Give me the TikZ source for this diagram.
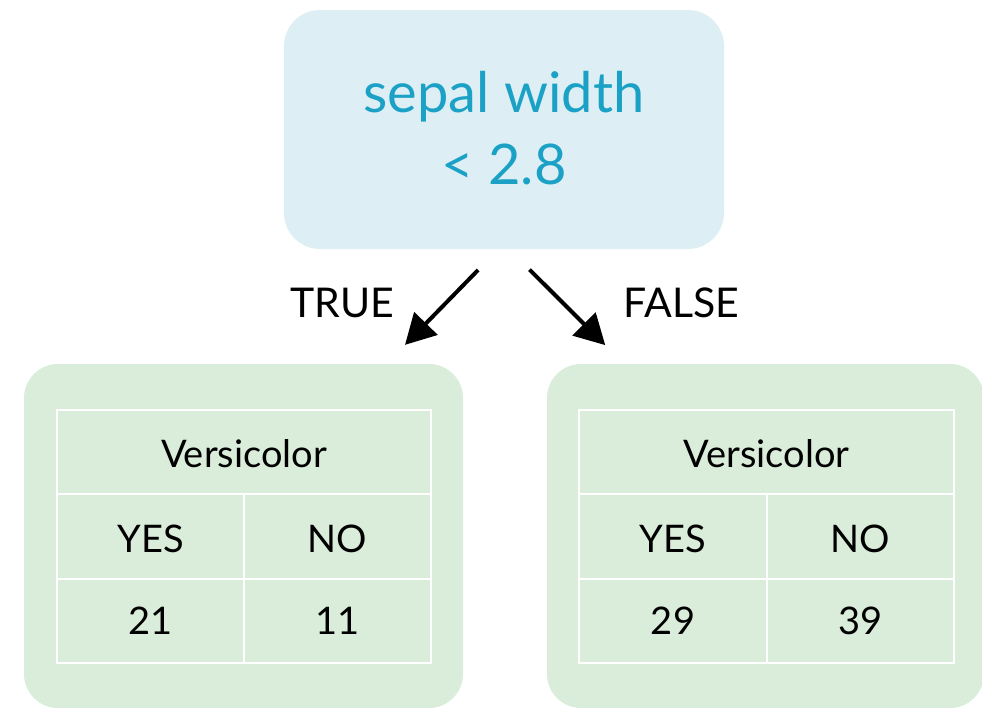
\documentclass[tikz,border=0pt]{standalone}
\usepackage{fontspec}
\setmainfont{Lato}
\usetikzlibrary{arrows.meta}
\definecolor{topfill}{HTML}{DDEFF5}
\definecolor{toptext}{HTML}{1BA1C6}
\definecolor{leaffill}{HTML}{DAECDA}
\tikzset{
  topbox/.style={fill=topfill, rounded corners=36pt, minimum width=440pt, minimum height=239pt, inner sep=0pt},
  leafbox/.style={fill=leaffill, rounded corners=34pt, inner sep=0pt},
  cell/.style={draw=white, line width=2pt, inner sep=0pt, font=\fontsize{38}{40}\selectfont, text=black},
  toptxt/.style={text=toptext, font=\fontsize{56}{60}\selectfont, inner sep=0pt, anchor=base},
  edgelbl/.style={font=\fontsize{41}{44}\selectfont, inner sep=0pt, anchor=base},
  arr/.style={line width=4pt, -{Triangle[length=30pt,width=32pt]}}
}
\begin{document}
\begin{tikzpicture}[x=1pt,y=-1pt]
\useasboundingbox (0,0) rectangle (982,707);
% top decision node
\node[topbox] (top) at (504,129.5) {};
\node[toptxt] (t1) at (504,112) {sepal width};
\node[toptxt] (t2) at (504,184) {< 2.8};
% leaf nodes
\node[leafbox, minimum width=439pt, minimum height=344pt] (leafL) at (243.5,536) {};
\node[leafbox, minimum width=437pt, minimum height=344pt] (leafR) at (765.5,536) {};
% arrows
\draw[arr, shorten <=29pt, shorten >=26.5pt] ([xshift=-5.6pt]top.south) -- ([xshift=143pt]leafL.north);
\draw[arr, shorten <=29pt, shorten >=26.5pt] ([xshift=5pt]top.south) -- ([xshift=-141.5pt]leafR.north);
\node[edgelbl] (ltrue) at (342.5,317) {TRUE};
\node[edgelbl] (lfalse) at (681.5,317) {FALSE};
% left table
\node[cell, minimum width=374pt, minimum height=84pt] (lh) at (244,452) {};
\node[cell, minimum width=187pt, minimum height=85pt] (ly) at (150.5,536.5) {};
\node[cell, minimum width=187pt, minimum height=85pt] (ln) at (337.5,536.5) {};
\node[cell, minimum width=187pt, minimum height=84pt] (lv1) at (150.5,621) {};
\node[cell, minimum width=187pt, minimum height=84pt] (lv2) at (337.5,621) {};
\node[cell, draw=none, anchor=base] at (244,467) {Versicolor};
\node[cell, draw=none, anchor=base] at (150.5,552) {YES};
\node[cell, draw=none, anchor=base] at (337.5,552) {NO};
\node[cell, draw=none, anchor=base] at (150.5,634) {21};
\node[cell, draw=none, anchor=base] at (337.5,634) {11};
% right table
\node[cell, minimum width=375pt, minimum height=84pt] (rh) at (766.5,452) {};
\node[cell, minimum width=188pt, minimum height=85pt] (ry) at (673,536.5) {};
\node[cell, minimum width=187pt, minimum height=85pt] (rn) at (860.5,536.5) {};
\node[cell, minimum width=188pt, minimum height=84pt] (rv1) at (673,621) {};
\node[cell, minimum width=187pt, minimum height=84pt] (rv2) at (860.5,621) {};
\node[cell, draw=none, anchor=base] at (766.5,467) {Versicolor};
\node[cell, draw=none, anchor=base] at (673,552) {YES};
\node[cell, draw=none, anchor=base] at (860.5,552) {NO};
\node[cell, draw=none, anchor=base] at (673,634) {29};
\node[cell, draw=none, anchor=base] at (860.5,634) {39};
\end{tikzpicture}
\end{document}
